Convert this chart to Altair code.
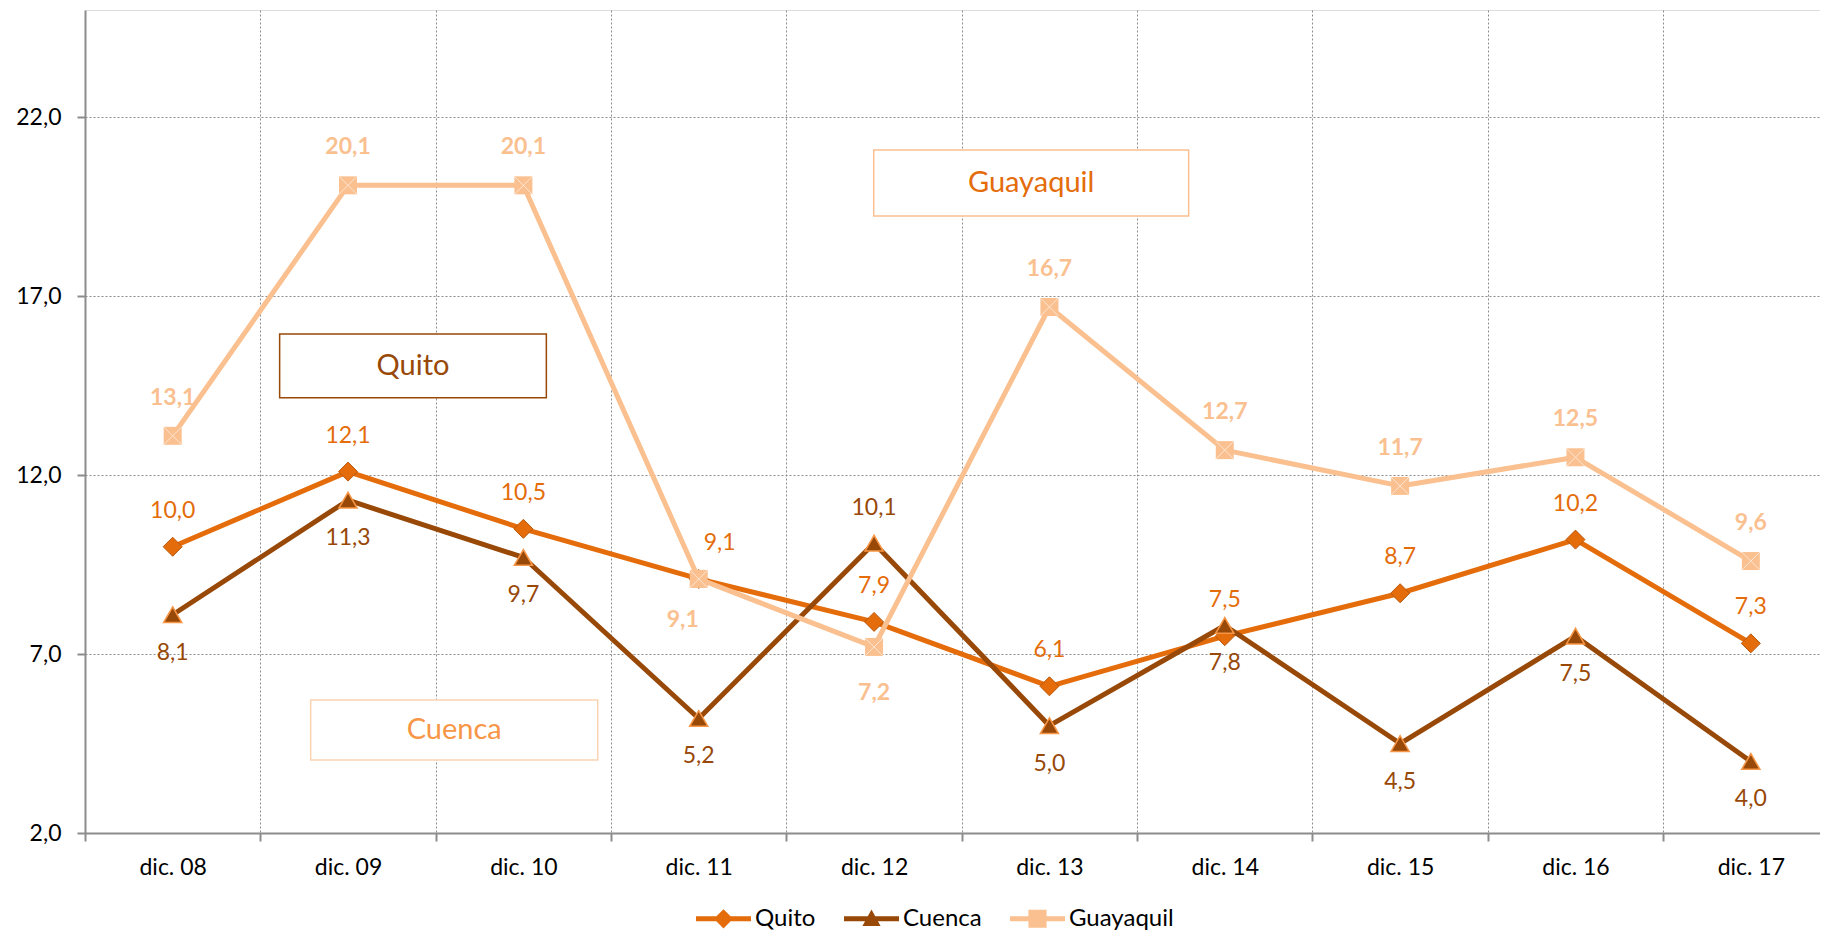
import json
import altair as alt
import pandas as pd

# ---------------- data ----------------
categorias = ["dic. 08", "dic. 09", "dic. 10", "dic. 11", "dic. 12",
              "dic. 13", "dic. 14", "dic. 15", "dic. 16", "dic. 17"]
series = ["Quito", "Cuenca", "Guayaquil"]
quito = [10.0, 12.1, 10.5, 9.1, 7.9, 6.1, 7.5, 8.7, 10.2, 7.3]
cuenca = [8.1, 11.3, 9.7, 5.2, 10.1, 5.0, 7.8, 4.5, 7.5, 4.0]
guayaquil = [13.1, 20.1, 20.1, 9.1, 7.2, 16.7, 12.7, 11.7, 12.5, 9.6]

# label placement relative to the point
pos_quito = ["arriba", "arriba", "arriba", "arriba-der", "arriba",
             "arriba", "arriba", "arriba", "arriba", "arriba"]
pos_cuenca = ["abajo", "abajo", "abajo", "abajo", "arriba",
              "abajo", "abajo", "abajo", "abajo", "abajo"]
pos_guayaquil = ["arriba", "arriba", "arriba", "abajo-izq", "abajo",
                 "arriba", "arriba", "arriba", "arriba", "arriba"]

y_ticks = [2, 7, 12, 17, 22]
y_domain = [2, 25]

# text-box annotations (data coordinates)
cuadro_texto = ["Quito", "Cuenca", "Guayaquil"]
cuadro_x1 = [0.61, 0.787, 3.998]
cuadro_x2 = [2.131, 2.424, 5.794]
cuadro_y1 = [15.945, 5.715, 21.087]
cuadro_y2 = [14.164, 4.039, 19.243]

# ---------------- styles ----------------
C_QUITO = "#E46C0A"
C_CUENCA = "#984807"
C_GUAYA = "#FAC090"
GRID = "#8c8c8c"
FONT = "Lato"

cuadro_borde = ["#984807", "#FBD3B1", "#FAC090"]
cuadro_color = ["#984807", "#F79646", "#E46C0A"]

rows = []
for s, vals, pos in [("Quito", quito, pos_quito), ("Cuenca", cuenca, pos_cuenca),
                     ("Guayaquil", guayaquil, pos_guayaquil)]:
    for i, (v, p) in enumerate(zip(vals, pos)):
        rows.append(dict(idx=i, cat=categorias[i], serie=s, valor=v, pos=p,
                         etiqueta=f"{v:.1f}".replace(".", ",")))
df = pd.DataFrame(rows)

cuadros = pd.DataFrame(dict(texto=cuadro_texto, x1=cuadro_x1, x2=cuadro_x2,
                            y1=cuadro_y1, y2=cuadro_y2,
                            borde=cuadro_borde, color=cuadro_color))

# ---------------- scales & axes ----------------
PLOT_W = 1735
X_MAX = -0.5 + PLOT_W / 175.35
xs = alt.Scale(domain=[-0.5, X_MAX], nice=False, zero=False)
ys = alt.Scale(domain=y_domain, nice=False, zero=False)

x_vals = sorted(list(range(10)) + [k + 0.5 for k in range(-1, 9)])
label_expr = "datum.value % 1 === 0 ? " + json.dumps(categorias) + "[datum.value] : ''"

ax_x = alt.Axis(values=x_vals, title=None, labelExpr=label_expr,
                grid=True, gridColor=GRID, gridDash=[2, 2], gridWidth=1,
                gridOpacity={"condition": {"test": "datum.value % 1 === 0 || datum.value < 0", "value": 0}, "value": 1},
                ticks=True, tickSize=8, tickWidth=2, tickColor=GRID,
                tickOpacity={"condition": {"test": "datum.value % 1 === 0", "value": 0}, "value": 1},
                domain=True, domainColor=GRID, domainWidth=2,
                labelFont=FONT, labelFontSize=23, labelColor="black",
                labelPadding=26, labelBaseline="middle",
                labelOverlap=False, labelFlush=False, labelBound=False)
ax_y = alt.Axis(values=y_ticks, title=None, grid=True, gridColor=GRID,
                gridDash=[2, 2], gridWidth=1,
                ticks=True, tickSize=8, tickWidth=2, tickColor=GRID,
                domain=True, domainColor=GRID, domainWidth=2,
                labelExpr="replace(format(datum.value, '.1f'), '.', ',')",
                labelFont=FONT, labelFontSize=23, labelColor="black",
                labelPadding=16, labelOverlap=False)

X = alt.X("idx:Q", scale=xs, axis=ax_x)
Y = alt.Y("valor:Q", scale=ys, axis=ax_y)

base = alt.Chart(df)


def serie_layers(nombre, color, marker):
    d = base.transform_filter(alt.datum.serie == nombre)
    line = d.mark_line(color=color, strokeWidth=5, strokeJoin="round",
                       strokeCap="round").encode(x=X, y=Y, order="idx:Q")
    out = [line]
    if marker == "diamond":
        out.append(d.mark_point(shape="diamond", filled=True, fill=color,
                                stroke="#B9580C", strokeWidth=1, size=361,
                                opacity=1).encode(x=X, y=Y))
    elif marker == "triangle":
        out.append(d.mark_point(shape="triangle-up", filled=True, fill=color,
                                stroke="#F79646", strokeWidth=1.5, size=330,
                                opacity=1).encode(x=X, y=Y))
    else:
        out.append(d.mark_point(shape="square", filled=True, fill=color,
                                strokeWidth=0, size=324, opacity=1).encode(x=X, y=Y))
        out.append(d.mark_point(shape="M-1,-1L1,1M-1,1L1,-1", filled=False,
                                stroke="#FDE6D3", strokeWidth=1, size=324,
                                opacity=1).encode(x=X, y=Y))
    return out


def label_layers(nombre, color, offsets, bold=False):
    out = []
    for p, (dx, dy) in offsets.items():
        d = base.transform_filter((alt.datum.serie == nombre) & (alt.datum.pos == p))
        out.append(d.mark_text(color=color, font=FONT, fontSize=23,
                               fontWeight="bold" if bold else "normal",
                               dx=dx, dy=dy, baseline="middle", align="center")
                   .encode(x=X, y=Y, text="etiqueta:N"))
    return out


layers = []
layers += serie_layers("Quito", C_QUITO, "diamond")
layers += serie_layers("Cuenca", C_CUENCA, "triangle")
layers += serie_layers("Guayaquil", C_GUAYA, "square")
layers += label_layers("Quito", C_QUITO, {"arriba": (0, -36), "arriba-der": (21, -36)})
layers += label_layers("Cuenca", C_CUENCA, {"arriba": (0, -35), "abajo": (0, 38)})
layers += label_layers("Guayaquil", C_GUAYA, {"arriba": (0, -38), "abajo": (0, 46),
                                             "abajo-izq": (-16, 41)}, bold=True)

# annotation boxes
box = alt.Chart(cuadros).mark_rect(fill="white", strokeWidth=1.5).encode(
    x=alt.X("x1:Q", scale=xs, axis=ax_x), x2="x2:Q",
    y=alt.Y("y1:Q", scale=ys, axis=ax_y), y2="y2:Q",
    stroke=alt.Stroke("borde:N", scale=None))
box_txt = alt.Chart(cuadros).transform_calculate(
    xc="(datum.x1 + datum.x2) / 2", yc="(datum.y1 + datum.y2) / 2"
).mark_text(font=FONT, fontSize=29, baseline="middle", align="center").encode(
    x=alt.X("xc:Q", scale=xs, axis=ax_x),
    y=alt.Y("yc:Q", scale=ys, axis=ax_y),
    text="texto:N", color=alt.Color("color:N", scale=None))
layers += [box, box_txt]

# legend (built from the series scale domain)
leg_paths = [
    "M-1,-0.09L1,-0.09L1,0.09L-1,0.09Z M0,-0.35L0.35,0L0,0.35L-0.35,0Z",
    "M-1,-0.09L1,-0.09L1,0.09L-1,0.09Z M0,-0.34L0.33,0.26L-0.33,0.26Z",
    "M-1,-0.09L1,-0.09L1,0.09L-1,0.09Z M-0.33,-0.33L0.33,-0.33L0.33,0.33L-0.33,0.33Z",
]
legend = alt.Legend(title=None, orient="none", legendX=611, legendY=881,
                    direction="horizontal", symbolSize=3025, symbolStrokeWidth=0,
                    symbolOpacity=1, labelFont=FONT, labelFontSize=24,
                    labelColor="black", labelOffset=4, columnPadding=28,
                    padding=0, labelLimit=0)
leg = base.transform_filter("false").mark_point(filled=True, opacity=1).encode(
    x=X, y=Y,
    color=alt.Color("serie:N", scale=alt.Scale(domain=series, range=[C_QUITO, C_CUENCA, C_GUAYA]),
                    legend=legend),
    shape=alt.Shape("serie:N", scale=alt.Scale(domain=series, range=leg_paths),
                    legend=legend))
layers.append(leg)

chart = alt.layer(*layers).properties(
    width=PLOT_W, height=823,
    padding={"left": 77, "top": 2, "right": 0, "bottom": 101},
    autosize=alt.AutoSizeParams(type="none"),
).configure_view(stroke=None).configure(background="white")

chart.save("out.html", embed_options={"renderer": "svg", "actions": False})
